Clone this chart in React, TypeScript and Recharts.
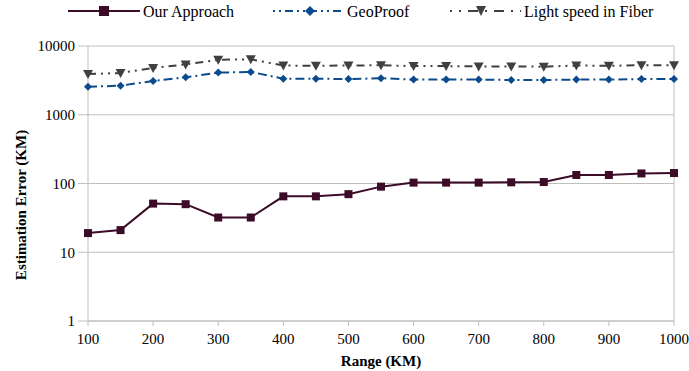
import React from 'react';
import {
  LineChart,
  Line,
  XAxis,
  YAxis,
  CartesianGrid,
  ReferenceLine,
} from 'recharts';

const ranges = [100, 150, 200, 250, 300, 350, 400, 450, 500, 550, 600, 650, 700, 750, 800, 850, 900, 950, 1000];
const ourApproach = [19, 21, 51, 50, 32, 32, 65, 65, 70, 90, 103, 103, 103, 104, 105, 133, 133, 140, 142];
const geoProof = [2550, 2650, 3100, 3500, 4100, 4200, 3350, 3350, 3300, 3400, 3250, 3250, 3250, 3200, 3200, 3250, 3250, 3300, 3300];
const lightSpeed = [3900, 4050, 4800, 5400, 6300, 6400, 5200, 5150, 5200, 5250, 5100, 5100, 5050, 5050, 5000, 5200, 5150, 5250, 5250];

const xTicks = [100, 200, 300, 400, 500, 600, 700, 800, 900, 1000];
const yTicks = [1, 10, 100, 1000, 10000];

const data = ranges.map((r, i) => ({
  range: r,
  ours: ourApproach[i],
  geo: geoProof[i],
  light: lightSpeed[i],
}));

const OURS = '#3b0b28';
const GEO = '#0b4a8c';
const LIGHT = '#404040';
const GRID = '#bfbfbf';
const FONT = '"Liberation Serif", "Times New Roman", serif';

const Square = (props: any) => {
  const {cx, cy} = props;
  if (cx == null || cy == null) return null;
  return <rect x={cx - 4} y={cy - 4} width={8} height={8} fill={OURS} />;
};

const Diamond = (props: any) => {
  const {cx, cy} = props;
  if (cx == null || cy == null) return null;
  return <polygon points={`${cx},${cy - 4} ${cx + 4},${cy} ${cx},${cy + 4} ${cx - 4},${cy}`} fill={GEO} />;
};

const Triangle = (props: any) => {
  const {cx, cy} = props;
  if (cx == null || cy == null) return null;
  return <polygon points={`${cx - 5},${cy - 4} ${cx + 5},${cy - 4} ${cx},${cy + 5}`} fill={LIGHT} />;
};

// legend drawn by hand, the reference puts it in a single row above the plot
const LegendBar = () => (
  <svg width={689} height={24} style={{position: 'absolute', left: 0, top: 0}}>
    <g fontFamily={FONT} fontSize={16} fill="#000">
      <line x1={68} y1={11} x2={140} y2={11} stroke={OURS} strokeWidth={2} />
      <rect x={99} y={6} width={10} height={10} fill={OURS} />
      <text x={143} y={17}>Our Approach</text>

      <line x1={273} y1={11} x2={344} y2={11} stroke={GEO} strokeWidth={2} strokeDasharray="2 4 2 4 8 4" />
      <polygon points="310,6 315,11 310,16 305,11" fill={GEO} />
      <text x={347} y={17}>GeoProof</text>

      <line x1={450} y1={11} x2={521} y2={11} stroke={LIGHT} strokeWidth={2} strokeDasharray="2 7 2 7 8 0" />
      <polygon points="476,6 486,6 481,16" fill={LIGHT} />
      <text x={524} y={17}>Light speed in Fiber</text>
    </g>
  </svg>
);

const YLabel = () => (
  <text
    transform="translate(21,205) rotate(-90)"
    textAnchor="middle"
    dominantBaseline="central"
    fontFamily={FONT}
    fontSize={15}
    fontWeight="bold"
    fill="#000"
  >
    Estimation Error (KM)
  </text>
);

export default function App() {
  return (
    <div style={{position: 'absolute', left: 0, top: 0, width: 689, height: 371, background: '#fff'}}>
      <LegendBar />
      <LineChart
        width={689}
        height={371}
        data={data}
        margin={{top: 46, right: 15, bottom: 0, left: 0}}
      >
        <CartesianGrid vertical={false} stroke={GRID} />
        <XAxis
          dataKey="range"
          type="number"
          domain={[100, 1000]}
          ticks={xTicks}
          height={50}
          stroke={GRID}
          tickLine={{stroke: GRID}}
          tickSize={5}
          tickMargin={7}
          tick={{fill: '#000', fontSize: 15, fontFamily: FONT}}
          label={{value: 'Range (KM)', position: 'insideBottom', offset: 5, fill: '#000', fontSize: 15, fontWeight: 'bold', fontFamily: FONT}}
        />
        <YAxis
          scale="log"
          domain={[1, 10000]}
          ticks={yTicks}
          allowDataOverflow
          width={88}
          stroke={GRID}
          tickLine={{stroke: GRID}}
          tickSize={10}
          tickMargin={3}
          tick={{fill: '#000', fontSize: 15, fontFamily: FONT}}
          label={<YLabel />}
        />
        <ReferenceLine x={1000} stroke={GRID} />
        <Line
          dataKey="light"
          stroke={LIGHT}
          strokeWidth={2}
          strokeDasharray="8 5 2 5 2 5"
          dot={<Triangle />}
          isAnimationActive={false}
        />
        <Line
          dataKey="geo"
          stroke={GEO}
          strokeWidth={2}
          strokeDasharray="9 4 2 4"
          dot={<Diamond />}
          isAnimationActive={false}
        />
        <Line
          dataKey="ours"
          stroke={OURS}
          strokeWidth={2}
          dot={<Square />}
          isAnimationActive={false}
        />
      </LineChart>
    </div>
  );
}
